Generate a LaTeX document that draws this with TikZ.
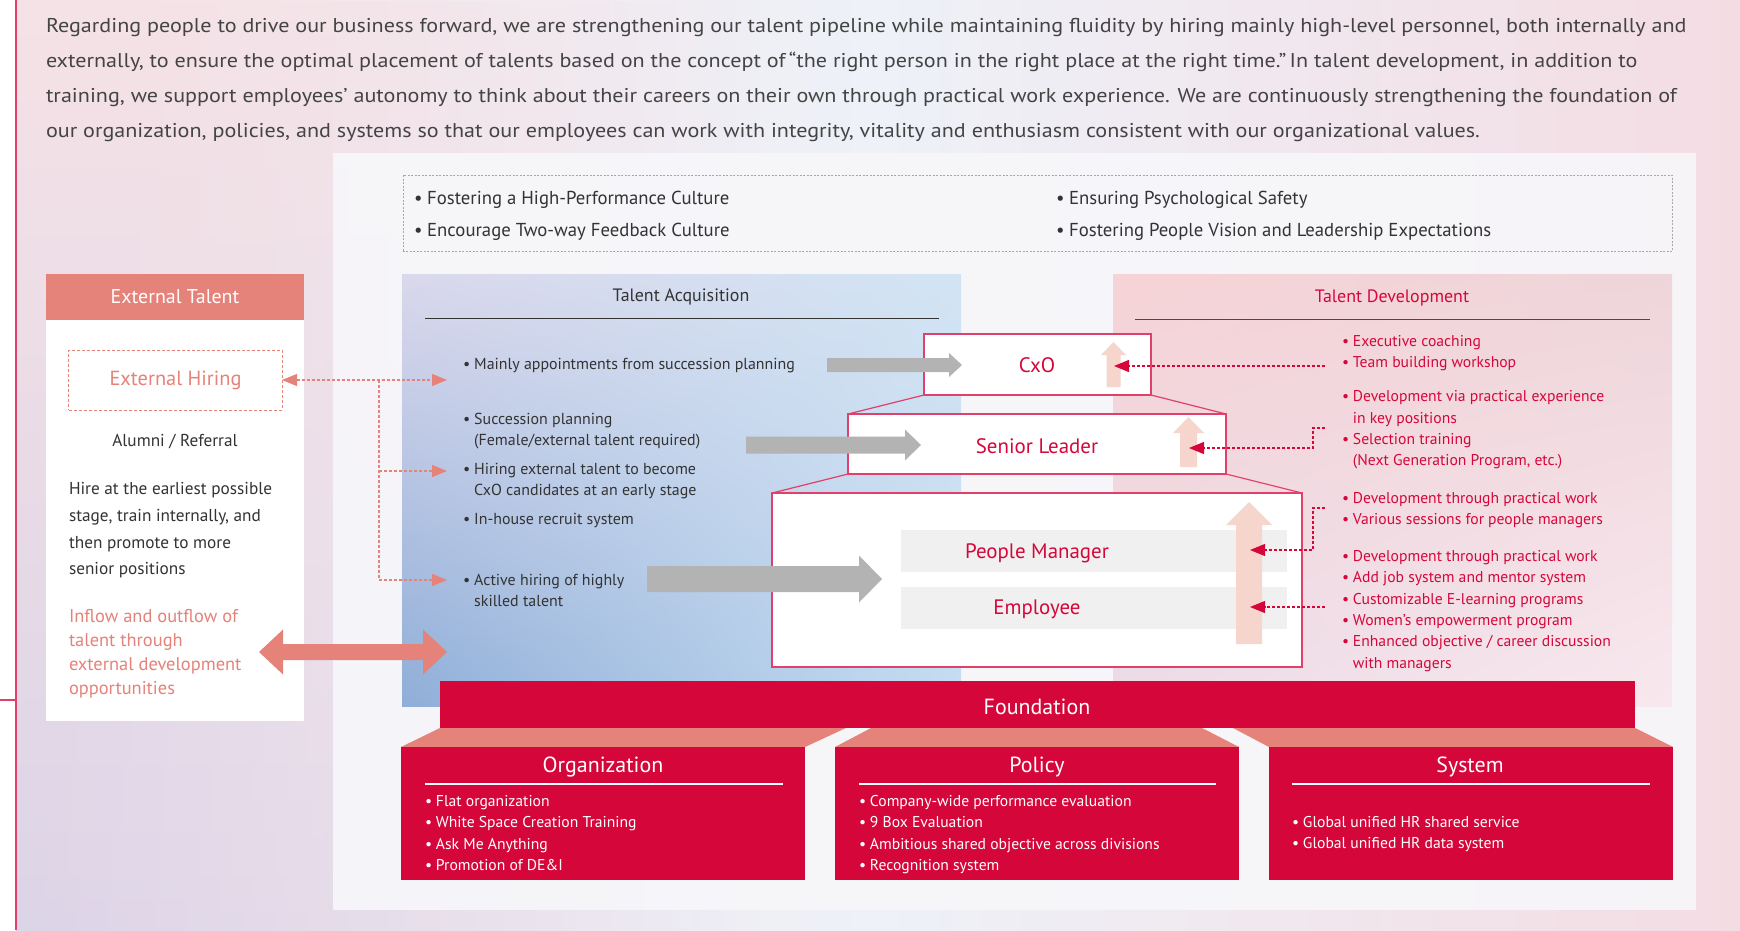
\documentclass[tikz,border=0pt]{standalone}
\usepackage{fontspec}
\setmainfont{PT Sans}
\newfontfamily\parafont[FakeStretch=1.11]{PT Sans}
\usetikzlibrary{arrows.meta,fadings,shadings}
\definecolor{crim}{HTML}{D5073A}
\definecolor{crimline}{HTML}{E0406A}
\definecolor{salmon}{HTML}{E5827A}
\definecolor{peach}{HTML}{F6D6CC}
\definecolor{garrow}{HTML}{B3B3B3}
\definecolor{barg}{HTML}{F0F0F0}
\definecolor{dark}{HTML}{333333}
\definecolor{paratext}{HTML}{444444}
\definecolor{dashg}{HTML}{A8A8A8}
\definecolor{bgpink}{HTML}{F5E2E6}
\definecolor{bgmid}{HTML}{EEF1F8}
\definecolor{bgpinkr}{HTML}{F4DCE3}
\definecolor{bglav}{HTML}{DCD4E8}
\definecolor{panel}{HTML}{F7F7FA}
\definecolor{taUL}{HTML}{DAD8EC}
\definecolor{taUR}{HTML}{D2E4F4}
\definecolor{taLL}{HTML}{8FAED8}
\definecolor{taLR}{HTML}{C4DCF1}
\definecolor{tdUL}{HTML}{F6D3D6}
\definecolor{tdUR}{HTML}{EED5DA}
\definecolor{tdLL}{HTML}{EBDCE8}
\definecolor{tdLR}{HTML}{F8E8EE}

% horizontal block arrow: colour, xstart, xtip, xheadbase, yc, half shaft, half head
\newcommand{\harrow}[7]{\fill[#1] (#2,{#5-#6}) -- (#4,{#5-#6}) -- (#4,{#5-#7}) -- (#3,#5) -- (#4,{#5+#7}) -- (#4,{#5+#6}) -- (#2,{#5+#6}) -- cycle;}
% vertical block arrow: colour, xc, ybottom, ytip, yheadbase, half shaft, half head
\newcommand{\varrow}[7]{\fill[#1] ({#2-#6},#3) -- ({#2-#6},#5) -- ({#2-#7},#5) -- (#2,#4) -- ({#2+#7},#5) -- ({#2+#6},#5) -- ({#2+#6},#3) -- cycle;}
\newcommand{\bul}{\textbullet\kern0.25em}
\newcommand{\ind}{\hphantom{\textbullet\kern0.25em}}

\begin{document}
\begin{tikzpicture}[x=1bp,y=-1bp,
  every node/.style={inner sep=0pt, outer sep=0pt},
  para/.style={anchor=base west, text=paratext, font=\parafont\fontsize{20}{24}\selectfont},
  vals/.style={anchor=base west, text=dark, font=\fontsize{18.8}{22}\selectfont},
  tat/.style={anchor=base west, text=dark, font=\fontsize{16}{19}\selectfont},
  tdt/.style={anchor=base west, text=crim, font=\fontsize{15.7}{19}\selectfont},
  ett/.style={anchor=base west, text=dark, font=\fontsize{17.3}{20}\selectfont},
  eti/.style={anchor=base west, text=salmon, font=\fontsize{18.5}{22}\selectfont},
  fdt/.style={anchor=base west, text=white, font=\fontsize{15.7}{18}\selectfont},
  ftitle/.style={text=white, font=\fontsize{22}{26}\selectfont},
  ptext/.style={text=crim, font=\fontsize{21}{25}\selectfont},
  pbox/.style={draw=crimline, line width=1.2bp, fill=white},
  fbox/.style={fill=crim, minimum width=404bp, minimum height=133bp},
  gbar/.style={fill=barg, minimum width=386bp, minimum height=42bp},
  rdash/.style={crim, line width=1.3bp, dash pattern=on 3bp off 2bp, -{Triangle[length=15bp,width=12bp]}},
  sdash/.style={salmon, line width=1.2bp, dash pattern=on 3bp off 2bp},
  stip/.style={-{Triangle[length=15bp,width=12bp]}},
]
\useasboundingbox (0,0) rectangle (1740,930);
% ---------- background ----------
\fill[white] (0,0) rectangle (1740,930);
\shade[left color=bgpink, right color=bgpinkr, middle color=bgmid] (16,0) rectangle (1740,930);
\shade[top color=bgpink, bottom color=bglav, path fading=east] (16,0) rectangle (760,930);
\fill[panel, fill opacity=0.9] (333,153) rectangle (1696,910);
\draw[crimline, line width=1.2bp] (16,0) -- (16,930);
\draw[crimline, line width=1.2bp] (0,700) -- (16,700);

% ---------- paragraph ----------
\node[para] (p1) at (46,32) {Regarding people to drive our business forward, we are strengthening our talent pipeline while maintaining fluidity by hiring mainly high-level personnel, both internally and};
\node[para] (p2) at (46,67) {externally, to ensure the optimal placement of talents based on the concept of\,“the right person in the right place at the right time.”\,In talent development, in addition to};
\node[para] (p3) at (46,102) {training, we support employees’ autonomy to think about their careers on their own through practical work experience. We are continuously strengthening the foundation of};
\node[para] (p4) at (46,137) {our organization, policies, and systems so that our employees can work with integrity, vitality and enthusiasm consistent with our organizational values.};

% ---------- values box ----------
\node[draw=dashg, line width=0.8bp, dash pattern=on 2bp off 1.5bp, minimum width=1269bp, minimum height=76bp] (valbox) at (1037.5,213) {};
\node[vals] (v1) at (414,204) {\bul Fostering a High-Performance Culture};
\node[vals] (v2) at (414,236) {\bul Encourage Two-way Feedback Culture};
\node[vals] (v3) at (1056,204) {\bul Ensuring Psychological Safety};
\node[vals] (v4) at (1056,236) {\bul Fostering People Vision and Leadership Expectations};

% ---------- External talent ----------
\fill[white] (46,274) rectangle (304,721);
\node[fill=salmon, minimum width=258bp, minimum height=46bp, text=white, font=\fontsize{20}{24}\selectfont] (ethead) at (175,297) {External Talent};
\node[draw=salmon, line width=1bp, dash pattern=on 3bp off 2bp, minimum width=213bp, minimum height=60bp, text=salmon, font=\fontsize{20.5}{24}\selectfont] (exthire) at (175.5,380) {External Hiring};
\node[text=dark, font=\fontsize{17.3}{20}\selectfont] (alumni) at (175,442) {Alumni / Referral};
\node[ett] (h1) at (69,494) {Hire at the earliest possible};
\node[ett] (h2) at (69,521) {stage, train internally, and};
\node[ett] (h3) at (69,548) {then promote to more};
\node[ett] (h4) at (69,574) {senior positions};
\node[eti] (i1) at (69,622) {Inflow and outflow of};
\node[eti] (i2) at (69,646) {talent through};
\node[eti] (i3) at (69,670) {external development};
\node[eti] (i4) at (69,694) {opportunities};

% ---------- Talent acquisition ----------
\shade[upper left=taUL, upper right=taUR, lower left=taLL, lower right=taLR] (402,274) rectangle (961,706);
\node[text=dark, font=\fontsize{18}{22}\selectfont] (tahead) at (681,297) {Talent Acquisition};
\draw[dark, line width=1bp] (425,318) -- (939,318);
\node[tat] (ta1) at (463,369.5) {\bul Mainly appointments from succession planning};
\node[tat] (ta2) at (463,424.5) {\bul Succession planning};
\node[tat] (ta3) at (463,445.5) {\ind (Female/external talent required)};
\node[tat] (ta4) at (463,474.5) {\bul Hiring external talent to become};
\node[tat] (ta5) at (463,495.5) {\ind CxO candidates at an early stage};
\node[tat] (ta6) at (463,524.5) {\bul In-house recruit system};
\node[tat] (ta7) at (463,585.5) {\bul Active hiring of highly};
\node[tat] (ta8) at (463,606.5) {\ind skilled talent};

% ---------- Talent development ----------
\shade[upper left=tdUL, upper right=tdUR, lower left=tdLL, lower right=tdLR] (1113,274) rectangle (1672,706);
\node[text=crim, font=\fontsize{18}{22}\selectfont] (tdhead) at (1392,298) {Talent Development};
\draw[crim, line width=1bp] (1135,319) -- (1650,319);
\node[tdt] (td1) at (1342,346.5) {\bul Executive coaching};
\node[tdt] (td2) at (1342,367.5) {\bul Team building workshop};
\node[tdt] (td3) at (1342,401.5) {\bul Development via practical experience};
\node[tdt] (td4) at (1342,423) {\ind in key positions};
\node[tdt] (td5) at (1342,444.5) {\bul Selection training};
\node[tdt] (td6) at (1342,465.5) {\ind (Next Generation Program, etc.)};
\node[tdt] (td7) at (1342,503.5) {\bul Development through practical work};
\node[tdt] (td8) at (1342,524.5) {\bul Various sessions for people managers};
\node[tdt] (td9) at (1342,561.5) {\bul Development through practical work};
\node[tdt] (td10) at (1342,582.5) {\bul Add job system and mentor system};
\node[tdt] (td11) at (1342,604) {\bul Customizable E-learning programs};
\node[tdt] (td12) at (1342,625.5) {\bul Women’s empowerment program};
\node[tdt] (td13) at (1342,646.5) {\bul Enhanced objective / career discussion};
\node[tdt] (td14) at (1342,668) {\ind with managers};

% ---------- pyramid ----------
\node[pbox, minimum width=227bp, minimum height=61bp] (cxo) at (1037.5,364.5) {};
\node[pbox, minimum width=378bp, minimum height=60bp] (sl) at (1037,444) {};
\node[pbox, minimum width=530bp, minimum height=174bp] (base) at (1037,580) {};
\draw[crimline, line width=1.2bp] (cxo.south west) -- (sl.north west);
\draw[crimline, line width=1.2bp] (cxo.south east) -- (sl.north east);
\draw[crimline, line width=1.2bp] (sl.south west) -- (base.north west);
\draw[crimline, line width=1.2bp] (sl.south east) -- (base.north east);
\node[gbar] (pmbar) at (1094,551) {};
\node[gbar] (empbar) at (1094,608) {};
\node[ptext] (cxot) at (1037,365) {CxO};
\node[ptext] (slt) at (1037,446) {Senior Leader};
\node[ptext] (pmt) at (1037,553) {People Manager};
\node[ptext] (empt) at (1037,609) {Employee};

% grey arrows
\harrow{garrow}{827}{962}{949}{365}{7}{12}
\harrow{garrow}{746}{921}{905}{445}{8.5}{15.5}
\harrow{garrow}{647}{882}{859}{579}{13}{23.5}
% peach arrows
\varrow{peach}{1113.5}{387}{342}{355}{7}{12.5}
\varrow{peach}{1188.5}{467}{417}{433}{8.5}{15.5}
\varrow{peach}{1249}{644}{502}{525}{13}{23}

% red dashed connectors
\coordinate (dA) at (1325,366);
\coordinate (tA) at (1114,366);
\coordinate (dB) at (1325,428);
\coordinate (kB) at (1313,428);
\coordinate (tB) at (1189,448);
\coordinate (dC) at (1325,508);
\coordinate (kC) at (1313,508);
\coordinate (tC) at (1250,550);
\coordinate (dD) at (1325,607);
\coordinate (tD) at (1250,607);
\draw[rdash] (dA) -- (tA);
\draw[rdash] (dB) -- (kB) |- (tB);
\draw[rdash] (dC) -- (kC) |- (tC);
\draw[rdash] (dD) -- (tD);

% salmon connectors
\coordinate (sa1) at (447,380);
\coordinate (sa2) at (447,471);
\coordinate (sa3) at (447,580);
\coordinate (sb1) at (379,380);
\coordinate (sb2) at (379,471);
\draw[sdash, {Triangle[length=15bp,width=12bp]}-{Triangle[length=15bp,width=12bp]}] (exthire.east) -- (sa1);
\draw[sdash, stip] (sb1) |- (sa3);
\draw[sdash, stip] (sb2) -- (sa2);
\fill[salmon] (259,652) -- (283,629.5) -- (283,644) -- (423,644) -- (423,629.5) -- (447,652) -- (423,674.5) -- (423,660) -- (283,660) -- (283,674.5) -- cycle;

% ---------- foundation ----------
\node[fill=crim, minimum width=1195bp, minimum height=47bp] (found) at (1037.5,704.5) {};
\node[ftitle] (foundt) at (1037,707) {Foundation};
\fill[salmon] (401,747) -- (440,728) -- (846,728) -- (805,747) -- cycle;
\fill[salmon] (835,747) -- (871,728) -- (1202,728) -- (1239,747) -- cycle;
\fill[salmon] (1269,747) -- (1233,728) -- (1635,728) -- (1673,747) -- cycle;
\node[fbox] (org) at (603,813.5) {};
\node[fbox] (pol) at (1037,813.5) {};
\node[fbox] (sys) at (1471,813.5) {};
\node[ftitle] (orgt) at (603,767) {Organization};
\node[ftitle] (polt) at (1037,767) {Policy};
\node[ftitle] (syst) at (1470,767) {System};
\draw[white, line width=1.5bp] (425,784) -- (783,784);
\draw[white, line width=1.5bp] (859,784) -- (1216,784);
\draw[white, line width=1.5bp] (1292,784) -- (1650,784);
\node[fdt] (o1) at (425,806) {\bul Flat organization};
\node[fdt] (o2) at (425,827) {\bul White Space Creation Training};
\node[fdt] (o3) at (425,849) {\bul Ask Me Anything};
\node[fdt] (o4) at (425,870) {\bul Promotion of DE\&I};
\node[fdt] (q1) at (859,806) {\bul Company-wide performance evaluation};
\node[fdt] (q2) at (859,827) {\bul 9 Box Evaluation};
\node[fdt] (q3) at (859,849) {\bul Ambitious shared objective across divisions};
\node[fdt] (q4) at (859,870) {\bul Recognition system};
\node[fdt] (s1) at (1292,827) {\bul Global unified HR shared service};
\node[fdt] (s2) at (1292,848) {\bul Global unified HR data system};
\end{tikzpicture}
\end{document}
